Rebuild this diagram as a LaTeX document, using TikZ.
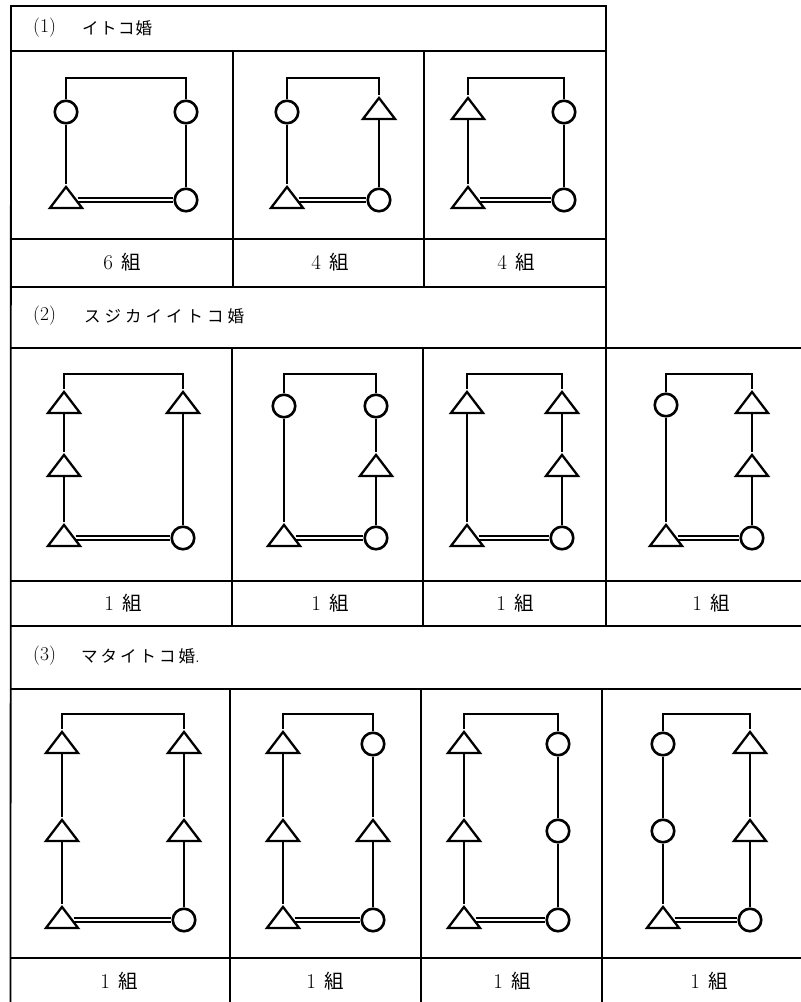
\documentclass[tikz,border=0pt]{standalone}
\usepackage{fontspec}
\newfontfamily\jpf{Noto Sans CJK JP}
\usetikzlibrary{shapes.geometric}
\tikzset{
  tabline/.style={line width=1.8pt, line cap=rect},
  wire/.style={line width=2.4pt},
  cir/.style={circle, draw, line width=2.6pt, minimum size=22.5pt, inner sep=0pt},
  tri/.style={isosceles triangle, isosceles triangle stretches, shape border rotate=90, draw, line width=2.3pt, minimum width=32pt, minimum height=21pt, inner sep=0pt},
  dbl/.style={double, line width=1.6pt, double distance=2.4pt},
  hdrnum/.style={anchor=west, inner sep=0pt, font=\fontsize{19.5}{22}\selectfont},
  hdrjp/.style={anchor=west, inner sep=0pt, font=\jpf\fontsize{16.5}{20}\selectfont},
  lab/.style={inner sep=0pt}
}
\newcommand\labtext[1]{{\fontsize{21}{24}\selectfont #1}\hspace{8pt}{\jpf\fontsize{19.5}{22}\selectfont 組}}
\begin{document}
\begin{tikzpicture}[x=1pt,y=-1pt]
\useasboundingbox (0,0) rectangle (801,1002);
% ---------------- table lines
\draw[tabline] (11,6) -- (606,6);
\draw[tabline] (11,51) -- (606,51);
\draw[tabline] (11,239) -- (606,239);
\draw[tabline] (11,287) -- (606,287);
\draw[tabline] (11,348) -- (801,348);
\draw[tabline] (11,581) -- (801,581);
\draw[tabline] (11,626) -- (801,626);
\draw[tabline] (11,689) -- (801,689);
\draw[tabline] (11,958) -- (801,958);
\draw[tabline] (11,6) -- (10.5,1002);
\draw[tabline] (606,6) -- (606,626);
\draw[tabline] (233,51) -- (233,287);
\draw[tabline] (424,51) -- (424,287);
\draw[tabline] (232,348) -- (232,626);
\draw[tabline] (423,348) -- (423,626);
\draw[tabline] (230,689) -- (230,1002);
\draw[tabline] (421,689) -- (421,1002);
\draw[tabline] (602,689) -- (602,1002);
% ---------------- headers
\node[hdrnum] (h1n) at (33,28) {(1)};
\node[hdrjp] (h1t) at (82,28) {イ\kern1.5ptト\kern1.5ptコ\kern1pt婚};
\node[hdrnum] (h2n) at (33,316) {(2)};
\node[hdrjp] (h2t) at (84,316) {ス\kern4ptジ\kern4ptカ\kern4ptイ\kern4ptイ\kern4ptト\kern4ptコ\kern4pt婚};
\node[hdrnum] (h3n) at (33,656) {(3)};
\node[hdrjp] (h3t) at (81,656) {マ\kern3ptタ\kern3ptイ\kern3ptト\kern3ptコ\kern3pt婚{\rmfamily\fontsize{19}{22}\selectfont .}};
% ---------------- labels
\node[lab] (la1) at (122,262) {\labtext{6}};
\node[lab] (la2) at (330,262) {\labtext{4}};
\node[lab] (la3) at (516,262) {\labtext{4}};
\node[lab] (lb1) at (123,603) {\labtext{1}};
\node[lab] (lb2) at (330,603) {\labtext{1}};
\node[lab] (lb3) at (515,603) {\labtext{1}};
\node[lab] (lb4) at (711,603) {\labtext{1}};
\node[lab] (lc1) at (119,981) {\labtext{1}};
\node[lab] (lc2) at (325,981) {\labtext{1}};
\node[lab] (lc3) at (512,981) {\labtext{1}};
\node[lab] (lc4) at (709,981) {\labtext{1}};
% ================= Section 1
% D11
\coordinate (a-tl) at (66,78); \coordinate (a-tr) at (186,78);
\node[cir] (a-l1) at (66,112) {};
\node[tri] (a-l2) at (66,200) {};
\node[cir] (a-r1) at (186,112) {};
\node[cir] (a-r2) at (186,200) {};
\draw[wire] (a-l1) -- (a-tl) -- (a-tr) -- (a-r1);
\draw[wire] (a-l1) -- (a-l2);
\draw[wire] (a-r1) -- (a-r2);
\draw[dbl] (a-l2) -- (a-r2);
% D12
\coordinate (b-tl) at (287,78); \coordinate (b-tr) at (379,78);
\node[cir] (b-l1) at (287,112) {};
\node[tri] (b-l2) at (287,200) {};
\node[tri] (b-r1) at (379,111) {};
\node[cir] (b-r2) at (379,200) {};
\draw[wire] (b-l1) -- (b-tl) -- (b-tr) -- (b-r1);
\draw[wire] (b-l1) -- (b-l2);
\draw[wire] (b-r1) -- (b-r2);
\draw[dbl] (b-l2) -- (b-r2);
% D13
\coordinate (c-tl) at (468,78); \coordinate (c-tr) at (564,78);
\node[tri] (c-l1) at (468,111) {};
\node[tri] (c-l2) at (468,200) {};
\node[cir] (c-r1) at (564,112) {};
\node[cir] (c-r2) at (564,200) {};
\draw[wire] (c-l1) -- (c-tl) -- (c-tr) -- (c-r1);
\draw[wire] (c-l1) -- (c-l2);
\draw[wire] (c-r1) -- (c-r2);
\draw[dbl] (c-l2) -- (c-r2);
% ================= Section 2
% D21
\coordinate (d-tl) at (64,374); \coordinate (d-tr) at (183,374);
\node[tri] (d-l1) at (64,405) {};
\node[tri] (d-l2) at (64,468) {};
\node[tri] (d-l3) at (64,538) {};
\node[tri] (d-r1) at (183,405) {};
\node[cir] (d-r3) at (183,538) {};
\draw[wire] (d-l1) -- (d-tl) -- (d-tr) -- (d-r1);
\draw[wire] (d-l1) -- (d-l2);
\draw[wire] (d-l2) -- (d-l3);
\draw[wire] (d-r1) -- (d-r3);
\draw[dbl] (d-l3) -- (d-r3);
% D22
\coordinate (e-tl) at (284,374); \coordinate (e-tr) at (376,374);
\node[cir] (e-l1) at (284,406) {};
\node[tri] (e-l3) at (284,538) {};
\node[cir] (e-r1) at (376,406) {};
\node[tri] (e-r2) at (376,468) {};
\node[cir] (e-r3) at (376,538) {};
\draw[wire] (e-l1) -- (e-tl) -- (e-tr) -- (e-r1);
\draw[wire] (e-l1) -- (e-l3);
\draw[wire] (e-r1) -- (e-r2);
\draw[wire] (e-r2) -- (e-r3);
\draw[dbl] (e-l3) -- (e-r3);
% D23
\coordinate (f-tl) at (467,374); \coordinate (f-tr) at (562,374);
\node[tri] (f-l1) at (467,405) {};
\node[tri] (f-l3) at (467,538) {};
\node[tri] (f-r1) at (562,405) {};
\node[tri] (f-r2) at (562,468) {};
\node[cir] (f-r3) at (562,538) {};
\draw[wire] (f-l1) -- (f-tl) -- (f-tr) -- (f-r1);
\draw[wire] (f-l1) -- (f-l3);
\draw[wire] (f-r1) -- (f-r2);
\draw[wire] (f-r2) -- (f-r3);
\draw[dbl] (f-l3) -- (f-r3);
% D24
\coordinate (g-tl) at (666,374); \coordinate (g-tr) at (752,374);
\node[cir] (g-l1) at (666,405) {};
\node[tri] (g-l3) at (666,538) {};
\node[tri] (g-r1) at (752,405) {};
\node[tri] (g-r2) at (752,468) {};
\node[cir] (g-r3) at (752,538) {};
\draw[wire] (g-l1) -- (g-tl) -- (g-tr) -- (g-r1);
\draw[wire] (g-l1) -- (g-l3);
\draw[wire] (g-r1) -- (g-r2);
\draw[wire] (g-r2) -- (g-r3);
\draw[dbl] (g-l3) -- (g-r3);
% ================= Section 3
% D31
\coordinate (h-tl) at (62,714); \coordinate (h-tr) at (184,714);
\node[tri] (h-l1) at (62,745) {};
\node[tri] (h-l2) at (62,833) {};
\node[tri] (h-l3) at (62,920) {};
\node[tri] (h-r1) at (184,745) {};
\node[tri] (h-r2) at (184,833) {};
\node[cir] (h-r3) at (184,920) {};
\draw[wire] (h-l1) -- (h-tl) -- (h-tr) -- (h-r1);
\draw[wire] (h-l1) -- (h-l2);
\draw[wire] (h-l2) -- (h-l3);
\draw[wire] (h-r1) -- (h-r2);
\draw[wire] (h-r2) -- (h-r3);
\draw[dbl] (h-l3) -- (h-r3);
% D32
\coordinate (i-tl) at (283,714); \coordinate (i-tr) at (373,714);
\node[tri] (i-l1) at (283,745) {};
\node[tri] (i-l2) at (283,833) {};
\node[tri] (i-l3) at (283,920) {};
\node[cir] (i-r1) at (373,744) {};
\node[tri] (i-r2) at (373,833) {};
\node[cir] (i-r3) at (373,920) {};
\draw[wire] (i-l1) -- (i-tl) -- (i-tr) -- (i-r1);
\draw[wire] (i-l1) -- (i-l2);
\draw[wire] (i-l2) -- (i-l3);
\draw[wire] (i-r1) -- (i-r2);
\draw[wire] (i-r2) -- (i-r3);
\draw[dbl] (i-l3) -- (i-r3);
% D33
\coordinate (j-tl) at (464,714); \coordinate (j-tr) at (558,714);
\node[tri] (j-l1) at (464,745) {};
\node[tri] (j-l2) at (464,833) {};
\node[tri] (j-l3) at (464,920) {};
\node[cir] (j-r1) at (558,744) {};
\node[cir] (j-r2) at (558,831) {};
\node[cir] (j-r3) at (558,920) {};
\draw[wire] (j-l1) -- (j-tl) -- (j-tr) -- (j-r1);
\draw[wire] (j-l1) -- (j-l2);
\draw[wire] (j-l2) -- (j-l3);
\draw[wire] (j-r1) -- (j-r2);
\draw[wire] (j-r2) -- (j-r3);
\draw[dbl] (j-l3) -- (j-r3);
% D34
\coordinate (k-tl) at (663,714); \coordinate (k-tr) at (750,714);
\node[cir] (k-l1) at (663,744) {};
\node[cir] (k-l2) at (663,831) {};
\node[tri] (k-l3) at (663,920) {};
\node[tri] (k-r1) at (750,745) {};
\node[tri] (k-r2) at (750,833) {};
\node[cir] (k-r3) at (750,920) {};
\draw[wire] (k-l1) -- (k-tl) -- (k-tr) -- (k-r1);
\draw[wire] (k-l1) -- (k-l2);
\draw[wire] (k-l2) -- (k-l3);
\draw[wire] (k-r1) -- (k-r2);
\draw[wire] (k-r2) -- (k-r3);
\draw[dbl] (k-l3) -- (k-r3);
\end{tikzpicture}
\end{document}
